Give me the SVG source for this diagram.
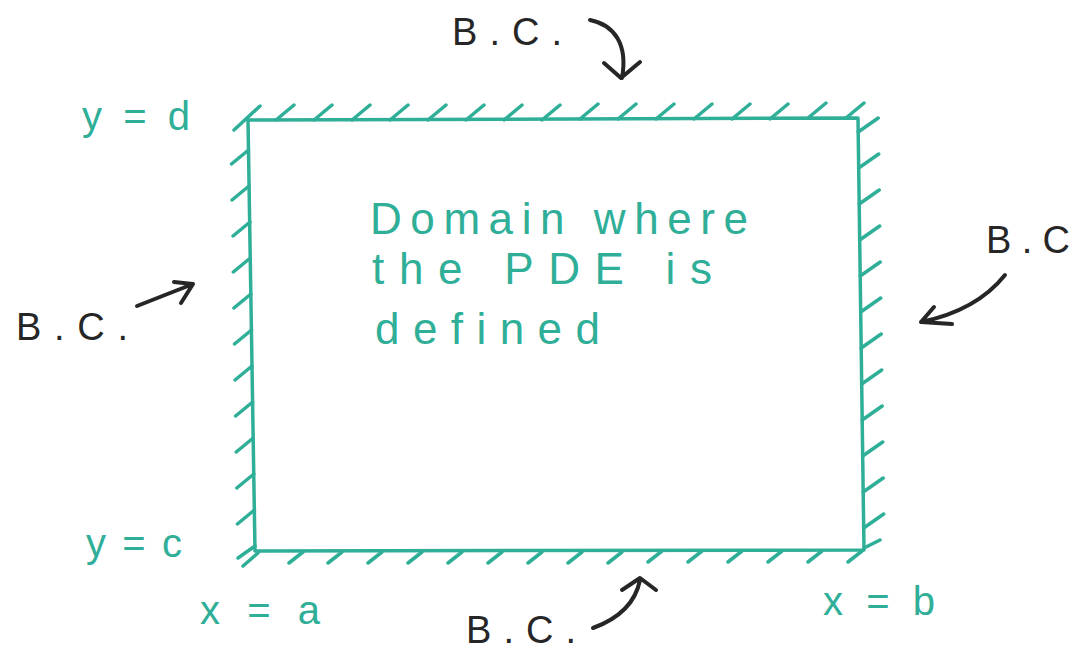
<svg xmlns="http://www.w3.org/2000/svg" width="1076" height="654" viewBox="0 0 1076 654">
<style>
.teal{stroke:#2fae98;fill:none;stroke-linecap:round;stroke-linejoin:round}
.edge{stroke-width:3.5}
.hatch{stroke-width:3.5}
.ink{stroke:#262626;fill:none;stroke-width:4;stroke-linecap:round;stroke-linejoin:round}
.tt{fill:#2fae98;font-family:"Liberation Sans",Arial,sans-serif}
.bt{fill:#262626;font-family:"Liberation Sans",Arial,sans-serif;font-size:38px}
</style>
<rect width="1076" height="654" fill="#ffffff"/>
<g id="domain">
<path class="teal edge" d="M248,120 L858,118 L864,550 L255,551 Z"/>
<path class="teal hatch" d="M234,130 l26,-24 M276,120 l18,-15 M314,120 l18,-15 M352,120 l18,-15 M390,120 l18,-15 M428,120 l18,-15 M466,120 l18,-15 M504,120 l18,-15 M542,120 l18,-15 M580,119 l18,-15 M618,119 l18,-15 M656,119 l18,-15 M694,119 l18,-15 M732,119 l18,-15 M770,119 l18,-15 M808,118 l18,-15 M846,118 l18,-15"/>
<path class="teal hatch" d="M248.5,150 l-17,14 M249,186 l-17,14 M250,222 l-17,14 M250.3,258 l-17,14 M250.9,294 l-17,14 M251.5,330 l-17,14 M252,366 l-17,14 M252.6,402 l-17,14 M253.2,438 l-17,14 M253.8,474 l-17,14 M254.4,510 l-17,14 M255,546 l-17,12"/>
<path class="teal hatch" d="M858.2,132 l20,-14 M858.7,168 l20,-14 M859.2,204 l20,-14 M859.7,240 l20,-14 M860.2,276 l20,-14 M860.7,312 l20,-14 M861.2,348 l20,-14 M861.7,384 l20,-14 M862.2,420 l20,-14 M862.7,456 l20,-14 M863.2,492 l20,-14 M863.7,528 l20,-14 M864,548 l16,-8"/>
<path class="teal hatch" d="M258,553 l-15,13 M303,552 l-14,11 M342,552 l-14,11 M382,552 l-14,11 M422,552 l-14,11 M462,552 l-14,11 M502,552 l-14,11 M542,552 l-14,11 M582,552 l-14,11 M622,552 l-14,11 M662,551 l-14,11 M702,551 l-14,11 M742,551 l-14,11 M782,551 l-14,11 M822,551 l-14,11 M862,551 l-14,11"/>
<text class="tt" x="370" y="234" font-size="44" textLength="378" lengthAdjust="spacing">Domain where</text>
<text class="tt" x="372" y="284" font-size="44" textLength="340" lengthAdjust="spacing">the PDE is</text>
<text class="tt" x="375" y="344" font-size="44" textLength="225" lengthAdjust="spacing">defined</text>
</g>
<g id="labels">
<text class="tt" x="82" y="130" font-size="40" textLength="108" lengthAdjust="spacing">y = d</text>
<text class="tt" x="86" y="557" font-size="40" textLength="96" lengthAdjust="spacing">y = c</text>
<text class="tt" x="200" y="624" font-size="40" textLength="120" lengthAdjust="spacing">x = a</text>
<text class="tt" x="823" y="615" font-size="40" textLength="112" lengthAdjust="spacing">x = b</text>
</g>
<g id="bc-top"><text class="bt" x="452" y="45" textLength="110" lengthAdjust="spacing">B.C.</text></g>
<g id="bc-left"><text class="bt" x="16" y="340" textLength="112" lengthAdjust="spacing">B.C.</text></g>
<g id="bc-right"><text class="bt" x="986" y="253" textLength="84" lengthAdjust="spacing">B.C</text></g>
<g id="bc-bottom"><text class="bt" x="466" y="643" font-size="36" textLength="110" lengthAdjust="spacing">B.C.</text></g>
<g id="connectors">
<path class="ink" d="M590,20 C615,25 628,45 622,78 M604,63 L621,78 L640,62"/>
<path class="ink" d="M137,306 L193,284 M174,282 L193,284 L181,303"/>
<path class="ink" d="M1005,275 C985,300 955,315 921,322 M934,307 L921,322 L952,324"/>
<path class="ink" d="M593,628 C615,620 635,605 640,580 M622,590 L640,578 L656,590"/>
</g>
</svg>
